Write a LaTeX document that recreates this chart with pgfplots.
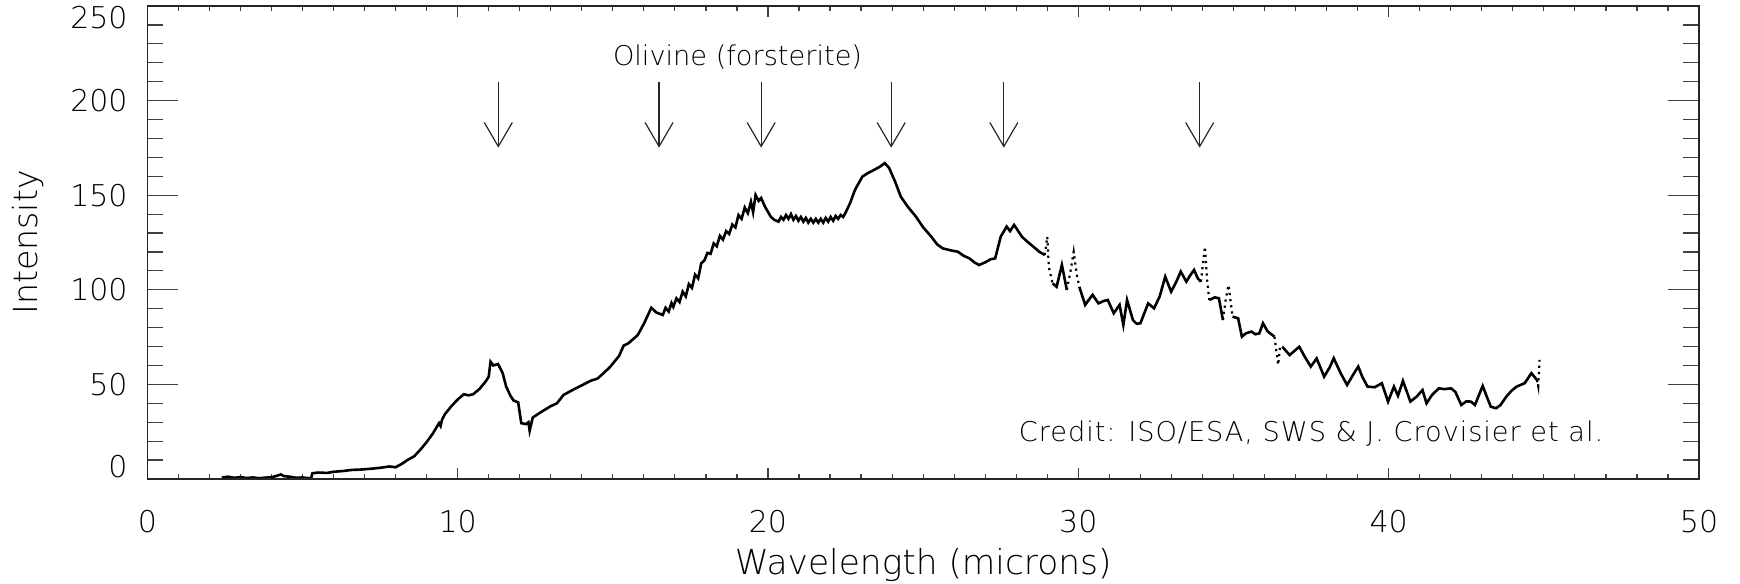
\documentclass[border=0pt]{standalone}
\usepackage{fontspec}
\setmainfont{DejaVu Sans ExtraLight}
\usepackage{pgfplots}
\pgfplotsset{compat=1.18}
\usetikzlibrary{arrows.meta}

\pgfplotstableread{
x y
2.40 0.8
2.6 1.2
2.8 0.6
3.0 1.0
3.2 0.5
3.4 0.8
3.6 0.4
3.8 0.7
4.0 0.9
4.2 1.8
4.3 2.4
4.4 1.5
4.6 1.2
4.8 0.6
5.0 0.8
5.2 0.4
5.28 0.6
5.32 3.0
5.5 3.4
5.8 3.2
6.0 3.8
6.3 4.2
6.6 4.8
6.9 5.0
7.2 5.4
7.5 5.9
7.8 6.6
8.0 6.2
8.2 8.0
8.4 10.2
8.6 12.0
8.8 15.5
9.0 19.5
9.2 24.0
9.4 29.5
9.45 28.0
9.5 31.5
9.6 34.5
9.8 38.5
10.0 42.0
10.2 44.8
10.35 44.2
10.5 44.8
10.7 47.5
10.9 51.5
11.0 54.0
11.06 62.0
11.15 60.0
11.3 60.8
11.45 56.0
11.56 49.0
11.7 44.0
11.8 41.5
11.95 40.5
12.05 29.5
12.2 29.0
12.28 30.0
12.32 25.5
12.42 32.5
12.7 35.5
13.0 38.5
13.2 40.0
13.41 44.4
13.7 47.0
14.0 49.5
14.3 52.0
14.5 53.0
14.64 55.0
14.9 59.0
15.2 65.0
15.35 70.5
15.5 71.7
15.8 76.0
16.0 82.0
16.24 90.5
16.4 88.0
16.61 86.7
16.7 90.5
16.8 88.5
16.89 93.0
16.95 91.0
17.05 95.5
17.15 93.5
17.25 99.0
17.35 96.5
17.45 103.0
17.55 101.0
17.65 108.0
17.75 106.0
17.85 114.0
17.95 115.5
18.05 119.5
18.15 119.0
18.25 124.5
18.35 123.0
18.45 128.5
18.55 126.5
18.65 131.0
18.75 129.5
18.85 134.5
18.95 133.0
19.05 139.5
19.15 137.5
19.25 143.5
19.35 140.5
19.45 146.5
19.52 141.0
19.6 150.1
19.7 147.0
19.78 148.5
19.9 144.0
20.09 138.6
20.2 137.0
20.34 136.0
20.42 138.5
20.5 137.0
20.58 139.5
20.66 137.5
20.74 140.0
20.82 137.0
20.9 139.0
20.98 136.5
21.06 138.5
21.14 136.0
21.22 138.0
21.3 135.5
21.38 137.5
21.46 135.5
21.54 137.5
21.62 135.5
21.7 137.5
21.78 135.5
21.86 138.0
21.94 136.0
22.02 138.5
22.1 136.5
22.18 139.0
22.26 137.5
22.34 139.5
22.42 138.5
22.49 140.4
22.65 146.0
22.8 152.7
23.04 159.8
23.2 161.5
23.41 163.3
23.6 165.0
23.76 166.9
23.9 164.5
24.1 157.0
24.28 149.2
24.5 144.0
24.77 138.6
25.0 133.0
25.26 128.1
25.45 124.0
25.63 121.9
25.9 120.8
26.12 120.1
26.3 118.0
26.49 116.6
26.65 114.5
26.8 113.1
27.0 114.5
27.17 116.1
27.32 116.6
27.5 128.1
27.69 133.4
27.8 131.0
27.93 134.3
28.18 128.1
28.35 125.5
28.55 122.8
28.75 120.0
28.92 118.4
nan nan
29.17 103.4
29.3 101.6
29.47 113.1
29.63 99.9
nan nan
30.03 101.6
30.22 92.0
30.35 95.0
30.46 97.3
30.65 92.8
30.8 94.0
30.95 94.6
31.14 87.6
31.33 92.0
31.45 81.4
31.57 94.6
31.76 84.0
31.88 82.0
32.0 82.3
32.25 92.8
32.44 90.2
32.62 96.4
32.8 106.9
32.99 99.0
33.15 104.0
33.3 109.6
33.48 104.3
33.6 107.5
33.73 110.5
33.85 106.0
33.95 104.3
nan nan
34.22 94.6
34.4 96.0
34.53 95.5
34.66 84.0
nan nan
34.97 85.8
35.15 84.9
35.27 75.2
35.4 77.0
35.58 77.9
35.7 76.5
35.83 76.9
35.95 82.3
36.1 78.0
36.32 75.2
nan nan
36.57 69.9
36.81 65.5
37.12 69.9
37.3 64.5
37.49 59.4
37.68 63.7
37.92 54.1
38.1 59.0
38.23 63.8
38.45 56.0
38.66 49.7
38.85 55.0
39.02 59.4
39.15 54.0
39.32 48.8
39.55 48.5
39.78 50.6
39.98 40.9
40.17 48.8
40.3 44.0
40.46 51.8
40.7 40.9
40.9 43.5
41.09 47.0
41.22 40.0
41.4 44.5
41.62 47.9
41.8 47.5
42.01 47.9
42.15 46.0
42.34 39.1
42.5 41.0
42.65 40.9
42.78 39.1
42.9 44.0
43.03 49.2
43.15 44.0
43.29 38.2
43.46 37.4
43.6 39.0
43.79 43.5
43.95 46.5
44.12 48.8
44.38 50.6
44.6 55.9
44.78 52.3
}\solid

\pgfplotstableread{
x y
28.92 118.4
29.0 128.0
29.05 112.0
29.17 103.4
nan nan
29.63 99.9
29.75 110.0
29.85 120.1
29.95 108.0
30.03 101.6
nan nan
33.95 104.3
34.08 122.8
34.15 105.0
34.22 94.6
nan nan
34.66 84.0
34.75 95.0
34.84 102.5
34.97 85.8
nan nan
36.32 75.2
36.44 60.3
36.5 70.0
36.57 69.9
nan nan
44.78 52.3
44.82 49.0
44.86 62.9
}\dotted

\pgfplotsset{
  base/.style={
    width=387.93pt, height=118.25pt, scale only axis,
    xmin=0, xmax=50, ymin=0, ymax=250,
    axis line style={line width=0.35pt, black!85},
    every tick/.style={line width=0.3pt, black!75},
    tick align=inside,
    unbounded coords=jump,
    clip=false,
  }
}

\begin{document}
\begin{tikzpicture}
\begin{axis}[base,
  xtick={0,10,20,30,40,50},
  xticklabels={0,10,20,30,40,50},
  minor x tick num=9,
  xtick pos=both,
  major tick length=2.75pt,
  minor tick length=1.25pt,
  ytick=\empty,
  xticklabel style={font=\fontsize{7.5}{9}\selectfont, yshift=-4.25pt},
  xlabel={Wavelength (microns)},
  xlabel style={font=\fontsize{8.6}{10}\selectfont, at={(axis description cs:0.5,-0.182)}, anchor=center},
]
\coordinate (BL) at (rel axis cs:0,0);
\coordinate (TR) at (rel axis cs:1,1);
\addplot[black, line width=0.65pt] table[x=x,y=y] {\solid};
\addplot[black, line width=0.55pt, densely dotted] table[x=x,y=y] {\dotted};
\foreach \w in {11.31,16.49,19.78,23.97,27.6,33.91}{
  \edef\tmp{\noexpand\draw[line width=0.3pt, black!85, -{Straight Barb[length=6pt,width=7pt]}] (axis cs:\w,209.7) -- (axis cs:\w,175.1);}
  \tmp
}
\node[anchor=base west, inner sep=0pt, font=\fontsize{6.8}{8}\selectfont] at (axis cs:14.98,218.8) {Olivine (forsterite)};
\node[anchor=base west, inner sep=0pt, font=\fontsize{6.8}{8}\selectfont\addfontfeatures{LetterSpace=3.5}] at (axis cs:28.06,19.7) {Credit: ISO/ESA, SWS \& J. Crovisier et al.};
\end{axis}
\begin{axis}[base,
  ytick={0,50,100,150,200,250},
  yticklabels={{\raisebox{3pt}[\height][\depth]{0}},50,100,150,200,{\raisebox{-3pt}[\height][\depth]{250}}},
  minor y tick num=4,
  ytick pos=both,
  major tick length=7.75pt,
  minor tick length=4pt,
  xtick=\empty,
  yticklabel style={font=\fontsize{7.5}{9}\selectfont, xshift=-1.4pt},
  ylabel={Intensity},
  ylabel style={font=\fontsize{8.3}{10}\selectfont, at={(axis description cs:-0.0771,0.5)}, anchor=center},
]
\end{axis}
\pgfresetboundingbox
\path ([shift={(-36.83pt,-26.25pt)}]BL) rectangle ([shift={(10.25pt,1.5pt)}]TR);
\end{tikzpicture}
\end{document}
